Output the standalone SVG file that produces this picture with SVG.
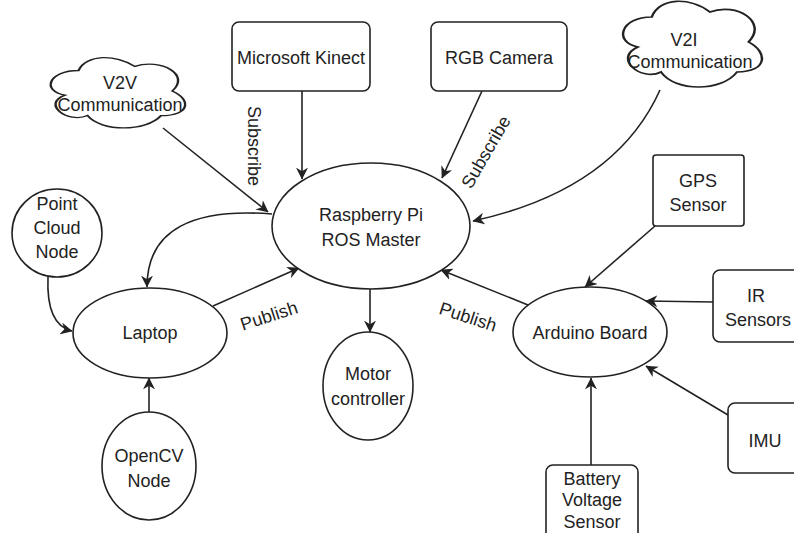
<svg xmlns="http://www.w3.org/2000/svg" width="794" height="533" viewBox="0 0 794 533">
<defs>
<style>
.shape{fill:#fff;stroke:#222;stroke-width:1.6}
.cloud{fill:#fff;stroke:#222;stroke-width:1.6;vector-effect:non-scaling-stroke}
.lbl{font-family:"Liberation Sans",Arial,sans-serif;font-size:18px;fill:#222;text-anchor:middle}
.edge{fill:none;stroke:#222;stroke-width:1.6;marker-end:url(#arr)}
</style>
<marker id="arr" viewBox="0 0 10 10" markerWidth="12" markerHeight="12" markerUnits="userSpaceOnUse" refX="9.5" refY="5" orient="auto">
<path d="M0,0 L10,5 L0,10 L3,5 Z" fill="#222"/>
</marker>
<path id="cloudp" d="M25,25 C5,25 0,50 16,55 C0,66 18,90 31,80 C40,100 70,100 80,80 C100,80 100,60 87.5,50 C100,30 80,10 62.5,20 C50,5 30,5 25,25 Z"/>
</defs>
<rect width="794" height="533" fill="#fff"/>

<g id="connectors">
<path class="edge" d="M302,91 L302,179"/>
<path class="edge" d="M163,128 L268,212"/>
<path class="edge" d="M482,91 L442,178"/>
<path class="edge" d="M660,90 Q615,190 473,221"/>
<path class="edge" d="M272,214 C195,208 147,228 147,287"/>
<path class="edge" d="M213,306 L299,268"/>
<path class="edge" d="M48,277 Q46,325 72,331"/>
<path class="edge" d="M149,412 L149,378"/>
<path class="edge" d="M370,289 L370,332"/>
<path class="edge" d="M528,305 L441,270"/>
<path class="edge" d="M655,226 L585,287"/>
<path class="edge" d="M713,302 L646,301"/>
<path class="edge" d="M728,415 L646,366"/>
<path class="edge" d="M591,465 L591,378"/>
<text class="lbl" transform="translate(254,146) rotate(90)" dy="6">Subscribe</text>
<text class="lbl" transform="translate(486,152) rotate(-60)" dy="6">Subscribe</text>
<text class="lbl" transform="translate(269,316) rotate(-18)" dy="6">Publish</text>
<text class="lbl" transform="translate(468,317) rotate(18)" dy="6">Publish</text>
</g>

<g id="kinect">
<rect class="shape" x="232" y="22" width="138" height="69" rx="7"/>
<text class="lbl" x="301" y="64">Microsoft Kinect</text>
</g>
<g id="rgb">
<rect class="shape" x="431" y="22" width="136" height="69" rx="7"/>
<text class="lbl" x="499" y="64">RGB Camera</text>
</g>
<g id="v2v">
<use href="#cloudp" class="cloud" transform="translate(41,50) scale(1.5,0.82)"/>
<text class="lbl" x="120" y="89">V2V</text>
<text class="lbl" x="120" y="111">Communication</text>
</g>
<g id="v2i">
<use href="#cloudp" class="cloud" transform="translate(613,-8) scale(1.55,1.0)"/>
<text class="lbl" x="684" y="46">V2I</text>
<text class="lbl" x="690" y="68">Communication</text>
</g>
<g id="rpi">
<ellipse class="shape" cx="371" cy="226" rx="99" ry="63"/>
<text class="lbl" x="371" y="221">Raspberry Pi</text>
<text class="lbl" x="371" y="246">ROS Master</text>
</g>
<g id="pointcloud">
<ellipse class="shape" cx="57" cy="233" rx="45" ry="44"/>
<text class="lbl" x="57" y="210">Point</text>
<text class="lbl" x="57" y="234">Cloud</text>
<text class="lbl" x="57" y="258">Node</text>
</g>
<g id="laptop">
<ellipse class="shape" cx="150" cy="333" rx="77" ry="45"/>
<text class="lbl" x="150" y="339">Laptop</text>
</g>
<g id="opencv">
<ellipse class="shape" cx="149" cy="466" rx="47" ry="54"/>
<text class="lbl" x="149" y="462">OpenCV</text>
<text class="lbl" x="149" y="487">Node</text>
</g>
<g id="motor">
<ellipse class="shape" cx="368" cy="386" rx="45" ry="54"/>
<text class="lbl" x="368" y="380">Motor</text>
<text class="lbl" x="368" y="405">controller</text>
</g>
<g id="arduino">
<ellipse class="shape" cx="590" cy="332" rx="77" ry="45"/>
<text class="lbl" x="590" y="339">Arduino Board</text>
</g>
<g id="gps">
<rect class="shape" x="653" y="155" width="91" height="71" rx="3"/>
<text class="lbl" x="698" y="187">GPS</text>
<text class="lbl" x="698" y="211">Sensor</text>
</g>
<g id="ir">
<rect class="shape" x="713" y="270" width="90" height="72" rx="7"/>
<text class="lbl" x="756" y="302">IR</text>
<text class="lbl" x="758" y="326">Sensors</text>
</g>
<g id="imu">
<rect class="shape" x="728" y="403" width="80" height="70" rx="7"/>
<text class="lbl" x="765" y="447">IMU</text>
</g>
<g id="battery">
<rect class="shape" x="546" y="465" width="92" height="80" rx="7"/>
<text class="lbl" x="592" y="485">Battery</text>
<text class="lbl" x="592" y="506">Voltage</text>
<text class="lbl" x="592" y="528">Sensor</text>
</g>
</svg>
